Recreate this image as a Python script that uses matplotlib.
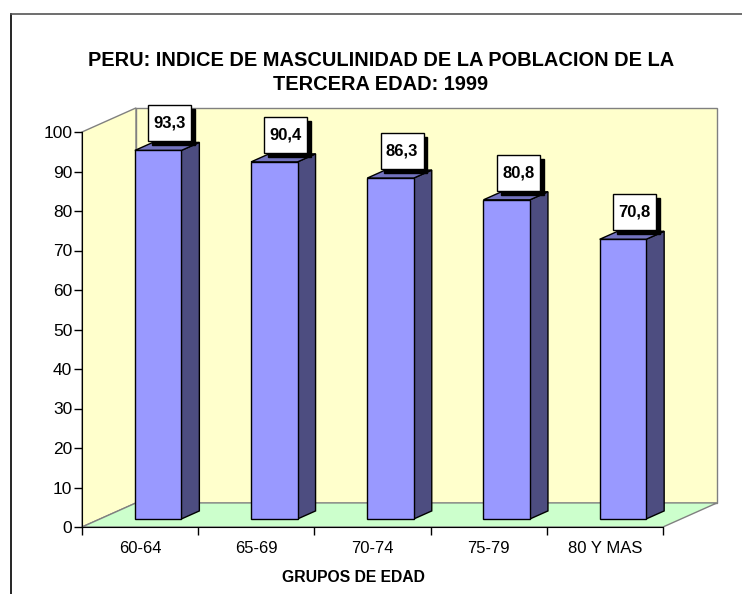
import matplotlib.pyplot as plt
from matplotlib.patches import Polygon, Rectangle
from matplotlib.lines import Line2D

# Datos
categorias = ['60-64', '65-69', '70-74', '75-79', '80 Y MAS']
indice = [93.3, 90.4, 86.3, 80.8, 70.8]
etiquetas = ['93,3', '90,4', '86,3', '80,8', '70,8']

plt.rcParams['font.family'] = ['Liberation Sans', 'DejaVu Sans']

fig = plt.figure(figsize=(7.42, 5.94), dpi=100)
ax = fig.add_axes([82 / 742, 67 / 594, 581 / 742, 395 / 594])
ax.set_xlim(0, 5)
ax.set_ylim(0, 100)

# Profundidad del efecto 3D (en unidades de datos)
DX = 0.465
DY = 6.1
d0, d1 = 1 / 3, 2 / 3
ancho = 0.4

# Paredes y piso
ax.add_patch(Polygon([(0, 0), (DX, DY), (DX, 100 + DY), (0, 100)], closed=True,
                     facecolor='#FFFFCC', edgecolor='#808080', lw=1, clip_on=False, zorder=0))
ax.add_patch(Rectangle((DX, DY), 5, 100, facecolor='#FFFFCC', edgecolor='#808080',
                       lw=1, clip_on=False, zorder=0))
ax.add_patch(Polygon([(0, 0), (5, 0), (5 + DX, DY), (DX, DY)], closed=True,
                     facecolor='#CCFFCC', edgecolor='#808080', lw=1, clip_on=False, zorder=0.5))

ddx = (d1 - d0) * DX
ddy = (d1 - d0) * DY
bw, bh = 0.37, 9.1   # caja de etiqueta
sx, sy = 0.034, 1.0  # sombra

for i, v in enumerate(indice):
    xc = i + 0.5
    xl = xc - ancho / 2 + d0 * DX
    xr = xl + ancho
    yb = d0 * DY
    yt = yb + v
    # cara lateral, superior y frontal
    ax.add_patch(Polygon([(xr, yb), (xr + ddx, yb + ddy), (xr + ddx, yt + ddy), (xr, yt)],
                         closed=True, facecolor='#4D4D80', edgecolor='black', lw=1,
                         clip_on=False, zorder=2))
    ax.add_patch(Polygon([(xl, yt), (xr, yt), (xr + ddx, yt + ddy), (xl + ddx, yt + ddy)],
                         closed=True, facecolor='#7373BF', edgecolor='black', lw=1,
                         clip_on=False, zorder=2))
    ax.add_patch(Rectangle((xl, yb), ancho, v, facecolor='#9999FF', edgecolor='black',
                           lw=1, clip_on=False, zorder=2))
    # etiqueta con sombra
    cx = xc + 0.254
    by = yt + 2.3
    ax.add_patch(Rectangle((cx - bw / 2 + sx, by - sy), bw, bh, facecolor='black',
                           edgecolor='black', lw=1, clip_on=False, zorder=3))
    ax.add_patch(Rectangle((cx - bw / 2, by), bw, bh, facecolor='white',
                           edgecolor='black', lw=1, clip_on=False, zorder=4))
    ax.text(cx, by + bh / 2, etiquetas[i], ha='center', va='center', fontsize=12,
            fontweight='bold', zorder=5, clip_on=False)

# Ejes
for s in ['top', 'right']:
    ax.spines[s].set_visible(False)
ax.spines['left'].set_color('black')
ax.spines['bottom'].set_color('black')
ax.spines['left'].set_zorder(6)
ax.spines['bottom'].set_zorder(6)
ax.set_yticks(range(0, 101, 10))
ax.tick_params(axis='y', direction='out', length=6, width=1, labelsize=12.5, pad=1)
ax.set_xticks(range(6))
ax.set_xticklabels([])
ax.set_xticks([i + 0.5 for i in range(5)], minor=True)
ax.set_xticklabels(categorias, minor=True)
ax.tick_params(axis='x', which='major', direction='out', length=6, width=1)
ax.tick_params(axis='x', which='minor', length=0, labelsize=12, pad=10)
ax.patch.set_visible(False)

# Titulos
fig.text(381 / 742, 1 - 72.5 / 594,
         'PERU: INDICE DE MASCULINIDAD DE LA POBLACION DE LA\nTERCERA EDAD: 1999',
         ha='center', va='center', fontsize=14.4, fontweight='bold', linespacing=1.39)
fig.text(353 / 742, 1 - 578 / 594, 'GRUPOS DE EDAD', ha='center', va='center',
         fontsize=11.3, fontweight='bold')

# Marco del grafico
fig.add_artist(Line2D([10.5 / 742, 10.5 / 742], [0, 1 - 14 / 594], color='black',
                      lw=1.2, transform=fig.transFigure))
fig.add_artist(Line2D([10.5 / 742, 1], [1 - 14 / 594, 1 - 14 / 594], color='#555555',
                      lw=1.2, transform=fig.transFigure))

fig.savefig('out.png', dpi=100)
